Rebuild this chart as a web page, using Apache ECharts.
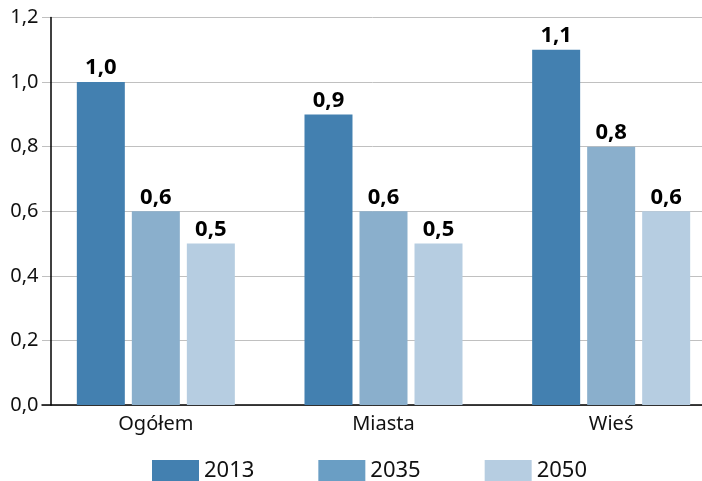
<!DOCTYPE html>
<html>
<head>
<meta charset="utf-8">
<script src="https://cdn.jsdelivr.net/npm/echarts@6/dist/echarts.min.js"></script>
<style>
  html, body { margin: 0; padding: 0; background: #fff; }
  #chart { width: 702px; height: 481px; }
</style>
</head>
<body>
<div id="chart"></div>
<script>
// dane
const categories = ['Ogółem', 'Miasta', 'Wieś'];
const years = ['2013', '2035', '2050'];
const values2013 = [1.0, 0.9, 1.1];
const values2035 = [0.6, 0.6, 0.8];
const values2050 = [0.5, 0.5, 0.6];

const barColors = ['#4380b0', '#8aafcc', '#b6cde1'];
const legendColors = ['#4380b0', '#6a9ec4', '#b6cde1'];
const font = 'Noto Sans';

const fmt = (v) => v.toFixed(1).replace('.', ',');

const chart = echarts.init(document.getElementById('chart'));

const makeSeries = (name, data, i) => ({
  name: name,
  type: 'bar',
  data: data,
  barWidth: 48,
  barGap: '14.6%',
  itemStyle: { color: barColors[i] },
  label: {
    show: true,
    position: 'top',
    distance: 3,
    fontFamily: font,
    fontWeight: 'bold',
    fontSize: 22,
    color: '#000',
    formatter: (p) => fmt(p.value)
  }
});

chart.setOption({
  backgroundColor: '#fff',
  animation: false,
  grid: {
    left: 42, width: 683, top: 17.5, bottom: 76,
    containLabel: false, outerBoundsMode: 'none'
  },
  legend: {
    top: 460,
    left: 152,
    padding: 0,
    itemWidth: 47,
    itemHeight: 22,
    itemGap: 64,
    icon: 'rect',
    textStyle: { fontFamily: font, fontSize: 22, color: '#111' },
    data: years.map((y, i) => ({ name: y, itemStyle: { color: legendColors[i] } }))
  },
  xAxis: {
    type: 'category',
    data: categories,
    axisLine: { lineStyle: { color: '#000', width: 1.5 } },
    axisTick: { show: false },
    axisLabel: { fontFamily: font, fontSize: 20, color: '#111', margin: 9 }
  },
  yAxis: {
    type: 'value',
    min: 0,
    max: 1.2,
    interval: 0.2,
    offset: -8.5,
    axisLine: { show: true, lineStyle: { color: '#000', width: 1.5 } },
    axisTick: { show: false },
    splitLine: { lineStyle: { color: '#c0c0c0', width: 1 } },
    axisLabel: { fontFamily: font, fontSize: 20, color: '#111', margin: 12, formatter: fmt }
  },
  series: [
    makeSeries(years[0], values2013, 0),
    makeSeries(years[1], values2035, 1),
    makeSeries(years[2], values2050, 2)
  ]
});
</script>
</body>
</html>
